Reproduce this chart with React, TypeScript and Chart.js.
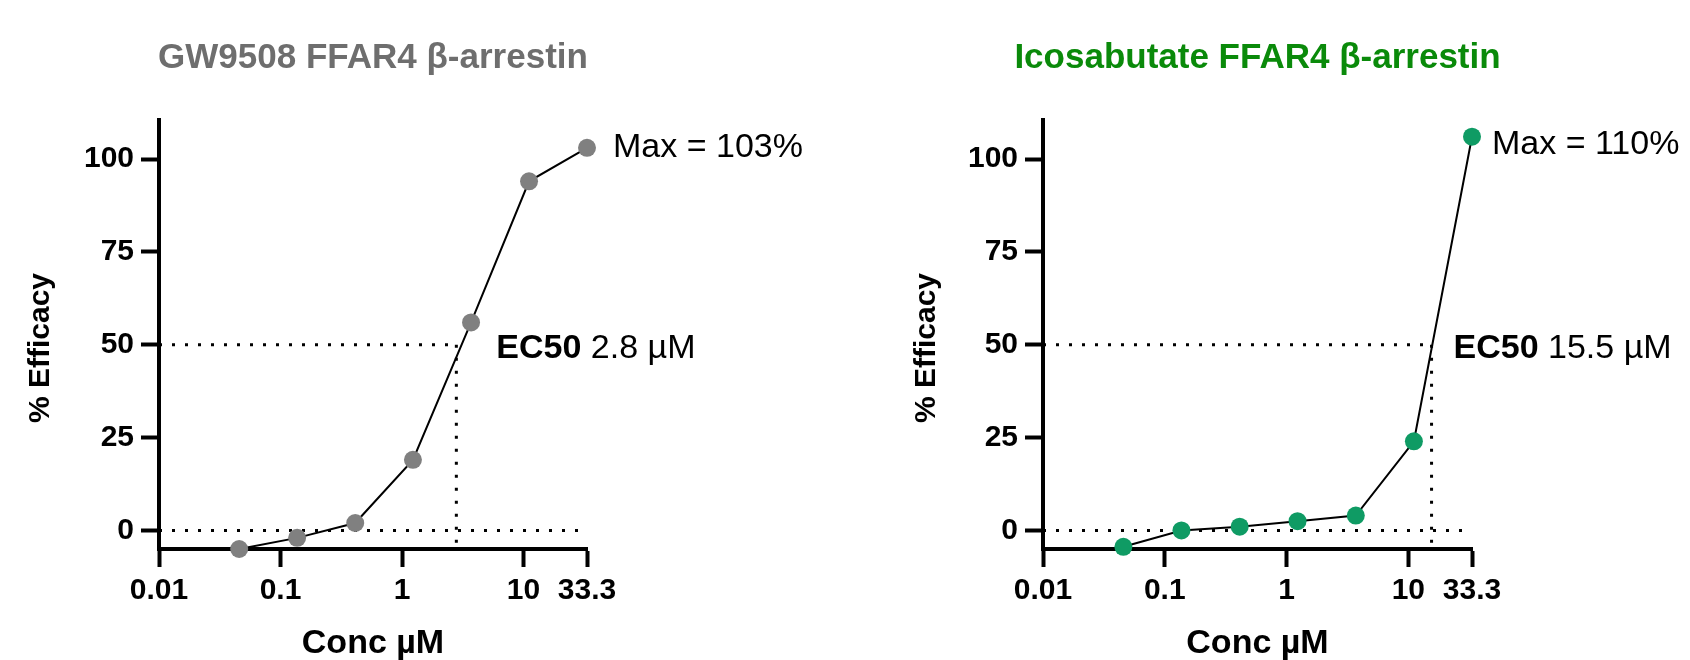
import React, { useEffect, useRef } from "react";
import { Chart, registerables } from "chart.js";

Chart.register(...registerables);

// ---- data ----
const concentrations = [0.0457, 0.137, 0.412, 1.23, 3.7, 11.1, 33.3];
const gwEfficacy = [-5, -2, 2, 19, 56, 94, 103];
const icoEfficacy = [-4.4, 0, 1, 2.5, 4, 24, 106];
const xTickValues = [0.01, 0.1, 1, 10, 33.3];
const xTickLabels = ["0.01", "0.1", "1", "10", "33.3"];
const yTickValues = [0, 25, 50, 75, 100];
const gwEc50 = 2.8;
const icoEc50 = 15.5;
const gwMaxLabel = "Max = 103%";
const icoMaxLabel = "Max = 110%";
const gwEc50Label = "2.8 µM";
const icoEc50Label = "15.5 µM";
const gwTitle = "GW9508 FFAR4 β-arrestin";
const icoTitle = "Icosabutate FFAR4 β-arrestin";
const xTitle = "Conc µM";
const yTitle = "% Efficacy";
const xMin = 0.01;
const xMax = 33.3;
const yMin = -5;
const yMax = 110.5;

const FONT = '"Liberation Sans", Arial, Helvetica, sans-serif';

type Panel = {
  title: string;
  titleColor: string;
  pointColor: string;
  values: number[];
  ec50: number;
  ec50Text: string;
  maxText: string;
  axisLeft: number;
  plotRight: number;
  yTitleX: number;
  maxGap: number;
  maxDy: number;
  ecGap: number;
};

const W = 845;
const H = 660;

const panels: Panel[] = [
  {
    title: gwTitle,
    titleColor: "#6e6e6e",
    pointColor: "#808080",
    values: gwEfficacy,
    ec50: gwEc50,
    ec50Text: gwEc50Label,
    maxText: gwMaxLabel,
    axisLeft: 159,
    plotRight: 587,
    yTitleX: 41,
    maxGap: 26,
    maxDy: 0,
    ecGap: 40,
  },
  {
    title: icoTitle,
    titleColor: "#0a8a0a",
    pointColor: "#0f9b64",
    values: icoEfficacy,
    ec50: icoEc50,
    ec50Text: icoEc50Label,
    maxText: icoMaxLabel,
    axisLeft: 198,
    plotRight: 627,
    yTitleX: 82,
    maxGap: 20,
    maxDy: 8,
    ecGap: 22,
  },
];

function PanelChart({ panel, left }: { panel: Panel; left: number }) {
  const ref = useRef<HTMLCanvasElement | null>(null);

  useEffect(() => {
    if (!ref.current) return;
    const p = panel;
    const textPlugin = {
      id: "panelText",
      afterDraw(chart: any) {
        const ctx = chart.ctx;
        const ca = chart.chartArea;
        const xs = chart.scales.x;
        const ys = chart.scales.y;
        const cx = (ca.left + ca.right) / 2;
        ctx.save();
        ctx.textBaseline = "middle";
        // title
        ctx.fillStyle = p.titleColor;
        ctx.textAlign = "center";
        ctx.font = `bold 35px ${FONT}`;
        ctx.fillText(p.title, cx, 58);
        // x title
        ctx.fillStyle = "#000";
        ctx.font = `bold 34px ${FONT}`;
        ctx.fillText(xTitle, cx, 644);
        // y title
        ctx.save();
        ctx.translate(p.yTitleX, 348);
        ctx.rotate(-Math.PI / 2);
        ctx.font = `bold 30px ${FONT}`;
        ctx.fillText(yTitle, 0, 0);
        ctx.restore();
        // Max label
        const last = concentrations.length - 1;
        ctx.textAlign = "left";
        ctx.font = `34px ${FONT}`;
        ctx.fillText(
          p.maxText,
          xs.getPixelForValue(concentrations[last]) + p.maxGap,
          ys.getPixelForValue(p.values[last]) + p.maxDy
        );
        // EC50 label
        const ex = xs.getPixelForValue(p.ec50) + p.ecGap;
        const ey = ys.getPixelForValue(50) + 4;
        ctx.font = `bold 34px ${FONT}`;
        ctx.fillText("EC50", ex, ey);
        const w = ctx.measureText("EC50 ").width;
        ctx.font = `34px ${FONT}`;
        ctx.fillText(p.ec50Text, ex + w, ey);
        ctx.restore();
      },
    };

    const dotted = {
      borderColor: "#000",
      borderWidth: 3,
      borderDash: [3, 10],
      borderCapStyle: "butt" as const,
      pointRadius: 0,
      fill: false,
      clip: false as any,
      order: 2,
      tension: 0,
    };

    const chart = new Chart(ref.current, {
      type: "line",
      data: {
        datasets: [
          {
            label: "efficacy",
            data: concentrations.map((c, i) => ({ x: c, y: p.values[i] })),
            borderColor: "#000",
            borderWidth: 2,
            pointRadius: 9,
            pointHoverRadius: 9,
            pointBackgroundColor: p.pointColor,
            pointBorderWidth: 0,
            pointBorderColor: p.pointColor,
            fill: false,
            tension: 0,
            clip: false as any,
            order: 0,
          },
          {
            label: "zero",
            data: [
              { x: xMin, y: 0 },
              { x: xMax, y: 0 },
            ],
            ...dotted,
          },
          {
            label: "half",
            data: [
              { x: xMin, y: 50 },
              { x: p.ec50, y: 50 },
            ],
            ...dotted,
          },
          {
            label: "ec50",
            data: [
              { x: p.ec50, y: 50 },
              { x: p.ec50, y: yMin },
            ],
            ...dotted,
          },
        ],
      },
      options: {
        responsive: false,
        animation: false,
        parsing: true,
        layout: {
          padding: { left: 0, top: 120, right: W - p.plotRight, bottom: 0 },
        },
        plugins: {
          legend: { display: false },
          tooltip: { enabled: false },
          title: { display: false },
        },
        scales: {
          x: {
            type: "logarithmic",
            min: xMin,
            max: xMax,
            afterBuildTicks: (s: any) => {
              s.ticks = xTickValues.map((v) => ({ value: v }));
            },
            afterFit: (s: any) => {
              s.height = 111;
            },
            ticks: {
              autoSkip: false,
              maxRotation: 0,
              minRotation: 0,
              padding: 6,
              color: "#000",
              font: { family: FONT, size: 30, weight: "bold" },
              callback: (_v: any, i: number) => xTickLabels[i],
            },
            grid: {
              drawOnChartArea: false,
              drawTicks: true,
              tickLength: 18,
              tickWidth: 4,
              tickColor: "#000",
            },
            border: { display: true, width: 4, color: "#000" },
          },
          y: {
            type: "linear",
            min: yMin,
            max: yMax,
            afterBuildTicks: (s: any) => {
              s.ticks = yTickValues.map((v) => ({ value: v }));
            },
            afterFit: (s: any) => {
              s.width = p.axisLeft;
            },
            ticks: {
              autoSkip: false,
              padding: 7,
              color: "#000",
              font: { family: FONT, size: 30, weight: "bold" },
              callback: (v: any) => String(v),
            },
            grid: {
              drawOnChartArea: false,
              drawTicks: true,
              tickLength: 18,
              tickWidth: 4,
              tickColor: "#000",
            },
            border: { display: true, width: 4, color: "#000" },
          },
        },
      },
      plugins: [textPlugin],
    } as any);

    return () => chart.destroy();
  }, [panel]);

  return (
    <canvas
      ref={ref}
      width={W}
      height={H}
      style={{ position: "absolute", left, top: 0, width: W, height: H }}
    />
  );
}

export default function App() {
  return (
    <div
      style={{
        position: "absolute",
        left: 0,
        top: 0,
        width: 1690,
        height: 660,
        background: "#fff",
        overflow: "hidden",
      }}
    >
      <PanelChart panel={panels[0]} left={0} />
      <PanelChart panel={panels[1]} left={845} />
    </div>
  );
}
